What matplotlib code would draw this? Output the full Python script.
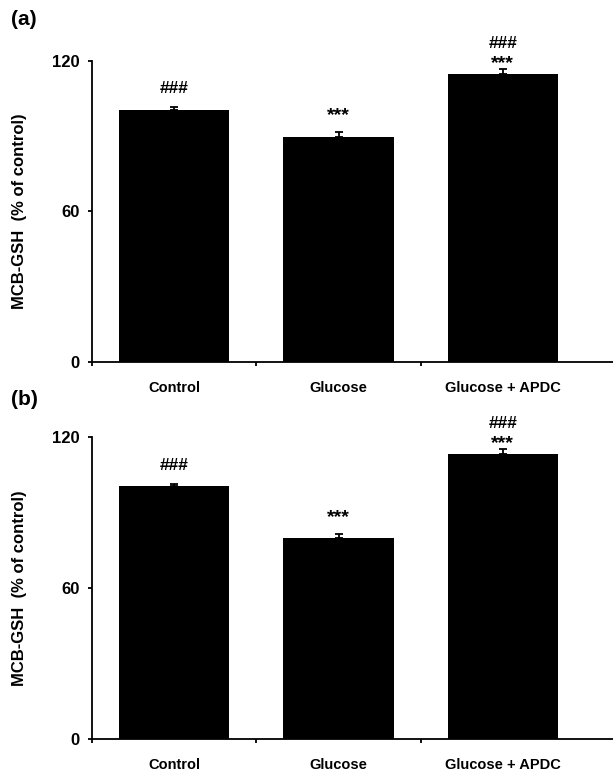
import numpy as np
import matplotlib
matplotlib.use("Agg")
import matplotlib.pyplot as plt

plt.rcParams['font.family'] = ['Liberation Sans', 'DejaVu Sans']
plt.rcParams['font.weight'] = 'bold'

# data
groups = ["Control", "Glucose", "Glucose + APDC"]
mcb_gsh_a = [100.6, 89.8, 114.8]
sem_a = [1.2, 2.0, 2.0]
mcb_gsh_b = [100.4, 79.7, 113.3]
sem_b = [1.0, 1.6, 1.8]
marks = [["###"], ["***"], ["***", "###"]]
yticks = [0, 60, 120]

fig = plt.figure(figsize=(6.13, 7.72), dpi=100)

# axes boxes in figure fractions (left, bottom, width, height)
boxes = [[0.150, 0.5315, 0.85, 0.3895],
         [0.150, 0.0427, 0.85, 0.3916]]
panels = [("(a)", mcb_gsh_a, sem_a), ("(b)", mcb_gsh_b, sem_b)]
label_y = [0.975, 0.482]

# baseline offsets (pixels) of the significance marks above the error bar top
offsets = [[14], [12], [1, 21]]
mark_size = {"###": 12.5, "***": 14}

for box, (tag, vals, errs), ly in zip(boxes, panels, label_y):
    ax = fig.add_axes(box)
    x = np.arange(len(groups))
    ax.bar(x, vals, width=0.67, color='black', zorder=2)
    ax.errorbar(x, vals, yerr=[np.zeros(len(vals)), errs], fmt='none',
                ecolor='black', elinewidth=1.3, capsize=3, capthick=1.3, zorder=1)
    for i in range(len(groups)):
        for m, off in zip(marks[i], offsets[i]):
            ax.annotate(m, (x[i], vals[i] + errs[i]), xytext=(0, off),
                        textcoords='offset pixels', ha='center', va='baseline',
                        fontsize=mark_size[m], fontweight='bold', annotation_clip=False)
    ax.set_xlim(-0.5, 2.67)
    ax.set_ylim(0, 120)
    ax.set_yticks(yticks)
    ax.set_yticklabels([str(t) for t in yticks], fontsize=12, fontweight='bold')
    ax.set_xticks([-0.5, 0.5, 1.5])
    ax.set_xticklabels([])
    ax.set_xticks(x, minor=True)
    ax.set_xticklabels(groups, minor=True, fontsize=10.5, fontweight='bold')
    ax.tick_params(axis='x', which='minor', length=0, pad=14)
    ax.tick_params(axis='both', which='major', length=3, width=1.3, direction='out')
    ax.tick_params(axis='y', pad=6)
    for s in ['top', 'right']:
        ax.spines[s].set_visible(False)
    for s in ['left', 'bottom']:
        ax.spines[s].set_linewidth(1.3)
    ax.set_ylabel("MCB-GSH  (% of control)", fontsize=12, fontweight='bold')
    ax.yaxis.set_label_coords(-0.125, 0.5)
    fig.text(0.018, ly, tag, fontsize=15, fontweight='bold', ha='left', va='center')

fig.savefig("out.png", dpi=100)
